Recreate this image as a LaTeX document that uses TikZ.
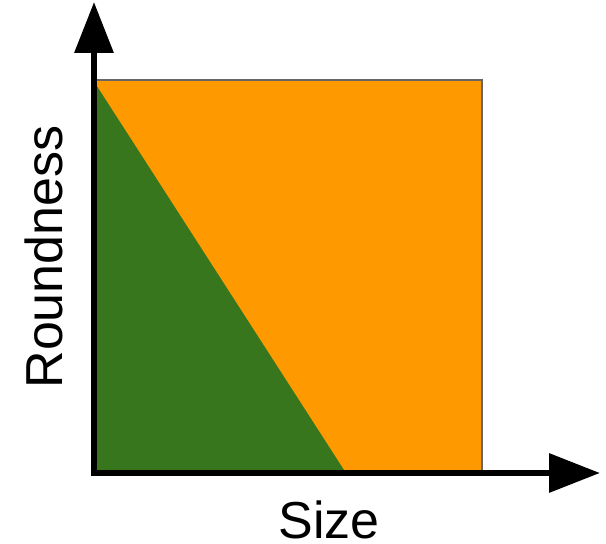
\documentclass[tikz,border=0pt]{standalone}
\usepackage{fontspec}
\setmainfont{Liberation Sans}
\usetikzlibrary{arrows.meta}
\definecolor{chartOrange}{HTML}{FF9900}
\definecolor{chartGreen}{HTML}{38761D}
\definecolor{chartEdge}{HTML}{666666}
\tikzset{
  axisline/.style={line width=6.5pt,-{Triangle[length=51pt,width=38pt]}},
  axislabel/.style={font=\fontsize{52}{60}\selectfont,inner sep=0pt,anchor=base}
}

\begin{document}
\begin{tikzpicture}[x=1pt,y=1pt]
  \useasboundingbox (0,0) rectangle (606,544);
  \coordinate (origin) at (93,74);
  \coordinate (topleft) at (93,464);
  \coordinate (topright) at (482,464);
  \coordinate (botright) at (482,74);
  \coordinate (split) at (344,74);
  % regions
  \fill[chartOrange] (origin) rectangle (topright);
  \fill[chartGreen] (origin) -- (topleft) -- (split) -- cycle;
  \draw[chartEdge,line width=2.5pt] (topleft) -- (topright) -- (botright);
  % axes
  \coordinate (ytip) at (94,542);
  \coordinate (xtip) at (600,71);
  \draw[axisline] (94,70.5) -- (ytip);
  \draw[axisline] (90.5,71) -- (xtip);
  \node[axislabel] (sizelabel) at (329,5.5) {Size};
  \node[axislabel,rotate=90] (roundlabel) at (62,287) {Roundness};
\end{tikzpicture}
\end{document}
